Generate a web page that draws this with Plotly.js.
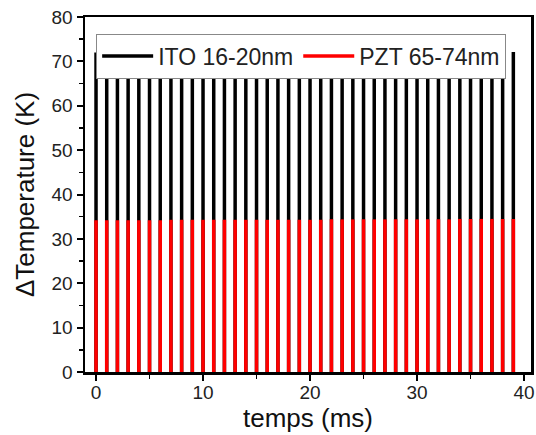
<!DOCTYPE html>
<html>
<head>
<meta charset="utf-8">
<script src="https://cdn.plot.ly/plotly-3.0.1.min.js"></script>
<style>html,body{margin:0;padding:0;background:#fff;}#chart{width:536px;height:435px;}</style>
</head>
<body>
<div id="chart"></div>
<script>
// Pulse times (ms)
var pulseTimes = [0,1,2,3,4,5,6,7,8,9,10,11,12,13,14,15,16,17,18,19,20,21,22,23,24,25,26,27,28,29,30,31,32,33,34,35,36,37,38,39];
// Peak temperature rise (K) for each pulse
var itoPeaks = [72,72,72,72,72,72,72,72,72,72,72,72,72,72,72,72,72,72,72,72,72,72,72,72,72,72,72,72,72,72,72,72,72,72,72,72,72,72,72,72.1];
var pztPeaks = [34.2,34.2,34.2,34.2,34.2,34.2,34.2,34.3,34.3,34.3,34.3,34.3,34.3,34.3,34.3,34.3,34.3,34.3,34.3,34.3,34.3,34.3,34.4,34.4,34.4,34.4,34.4,34.4,34.4,34.4,34.4,34.4,34.4,34.4,34.5,34.5,34.5,34.5,34.5,34.5];
var seriesNames = ["ITO 16-20nm", "PZT 65-74nm"];

function pulses(times, peaks) {
  var x = [], y = [];
  for (var i = 0; i < times.length; i++) {
    x.push(times[i], times[i], null);
    y.push(0, peaks[i], null);
  }
  return {x: x, y: y};
}

var ito = pulses(pulseTimes, itoPeaks);
var pzt = pulses(pulseTimes, pztPeaks);

var font = "Arial, 'Liberation Sans', sans-serif";

var traces = [
  {x: ito.x, y: ito.y, name: seriesNames[0], type: 'scatter', mode: 'lines',
   connectgaps: false, line: {color: '#000000', width: 3.5}},
  {x: pzt.x, y: pzt.y, name: seriesNames[1], type: 'scatter', mode: 'lines',
   connectgaps: false, line: {color: '#ff0000', width: 3.5}}
];

var axisCommon = {
  showgrid: false, zeroline: false, showline: true, linecolor: '#000', linewidth: 2.5,
  mirror: true, ticks: 'outside', ticklen: 6, tickwidth: 2, tickcolor: '#000',
  tickfont: {family: font, size: 19, color: '#222'}
};

var layout = {
  width: 536, height: 435,
  margin: {l: 85, r: 5, t: 17, b: 63},
  paper_bgcolor: '#fff', plot_bgcolor: '#fff',
  showlegend: true,
  legend: {
    orientation: 'h', x: 0.025, y: 0.890, xanchor: 'left', yanchor: 'middle',
    bgcolor: '#fff', bordercolor: '#888', borderwidth: 1,
    font: {family: font, size: 23, color: '#222'},
    itemwidth: 51, tracegroupgap: 0
  },
  xaxis: Object.assign({}, axisCommon, {
    range: [-1.03, 40.65], tickvals: [0,10,20,30,40],
    ticklabelstandoff: -4,
    minor: {dtick: 5, tick0: 0, ticks: 'outside', ticklen: 4, tickwidth: 1.5, tickcolor: '#000'},
    title: {text: 'temps (ms)', font: {family: font, size: 26, color: '#111'}, standoff: 2}
  }),
  yaxis: Object.assign({}, axisCommon, {
    range: [0, 80], tickvals: [0,10,20,30,40,50,60,70,80],
    minor: {dtick: 5, tick0: 0, ticks: 'outside', ticklen: 4, tickwidth: 1.5, tickcolor: '#000'},
    title: {text: 'ΔTemperature (K)', font: {family: font, size: 26, color: '#111'}, standoff: 10}
  })
};

Plotly.newPlot('chart', traces, layout, {displayModeBar: false, staticPlot: true});
</script>
</body>
</html>
